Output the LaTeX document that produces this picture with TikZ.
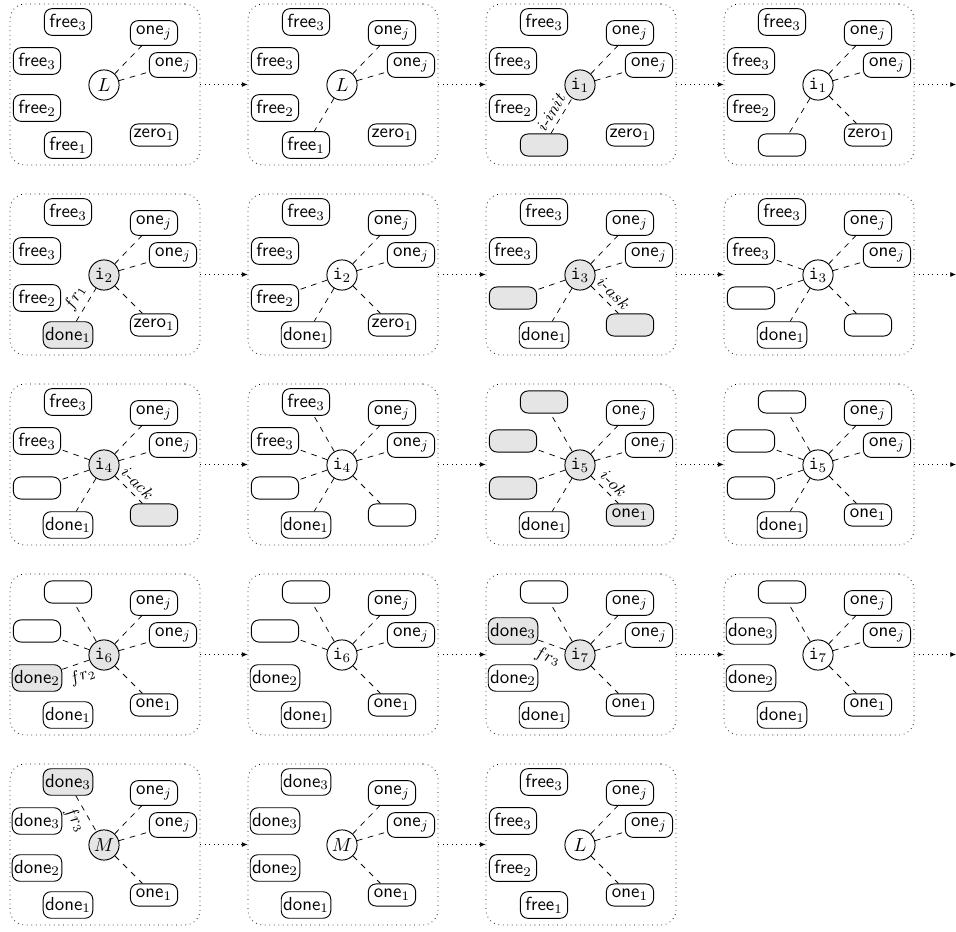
\documentclass[tikz,border=0pt]{standalone}
\usetikzlibrary{arrows.meta}
\newcommand\tfree[1]{free$_{#1}$}
\newcommand\tdone[1]{done$_{#1}$}
\newcommand\tone[1]{one$_{#1}$}
\newcommand\tzero[1]{zero$_{#1}$}
\newcommand\tii[1]{$\texttt{i}_{#1}$}
\begin{document}
\begin{tikzpicture}[x=0.53pt,y=-0.53pt,
 box/.style={draw, line width=0.5pt, rounded corners=4pt, minimum width=25pt, minimum height=11.7pt, inner xsep=1pt, inner ysep=2.8pt, font=\sffamily},
 hl/.style={fill=black!10},
 ctr/.style={draw, line width=0.5pt, circle, minimum size=16pt, inner sep=0.5pt},
 link/.style={dashed},
 frame/.style={draw, dotted, rounded corners=8pt, minimum width=100.7pt, minimum height=85.3pt, inner sep=0pt},
 flow/.style={dotted, -{Latex[length=3pt,width=2.6pt]}},
 lbl/.style={font=\small, sloped, inner sep=2.6pt}]
\useasboundingbox (0,0) rectangle (956,932);

% ---------- Panel 1
\begin{scope}[shift={(10,4)}]
\node[frame] (p1) at (95,80.5) {};
\node[ctr] (p1C) at (94,81) {$L$};
\node[box] (p1T) at (58,18) {\tfree3};
\node[box] (p1UL) at (27,57) {\tfree3};
\node[box] (p1LL) at (27,104) {\tfree2};
\node[box] (p1B) at (58,141) {\tfree1};
\node[box] (p1R1) at (144,29) {\tone j};
\node[box] (p1R2) at (163,61) {\tone j};
\node[box] (p1BR) at (144,131) {\tzero1};
\draw[link] (p1C) -- (p1R1);
\draw[link] (p1C) -- (p1R2);
\end{scope}
% ---------- Panel 2
\begin{scope}[shift={(248,4)}]
\node[frame] (p2) at (95,80.5) {};
\node[ctr] (p2C) at (94,81) {$L$};
\node[box] (p2T) at (58,18) {\tfree3};
\node[box] (p2UL) at (27,57) {\tfree3};
\node[box] (p2LL) at (27,104) {\tfree2};
\node[box] (p2B) at (58,141) {\tfree1};
\node[box] (p2R1) at (144,29) {\tone j};
\node[box] (p2R2) at (163,61) {\tone j};
\node[box] (p2BR) at (144,131) {\tzero1};
\draw[link] (p2C) -- (p2R1);
\draw[link] (p2C) -- (p2R2);
\draw[link] (p2C) -- (p2B);
\end{scope}
% ---------- Panel 3
\begin{scope}[shift={(486,4)}]
\node[frame] (p3) at (95,80.5) {};
\node[ctr,hl] (p3C) at (94,81) {\tii1};
\node[box] (p3T) at (58,18) {\tfree3};
\node[box] (p3UL) at (27,57) {\tfree3};
\node[box] (p3LL) at (27,104) {\tfree2};
\node[box,hl] (p3B) at (58,141) {};
\node[box] (p3R1) at (144,29) {\tone j};
\node[box] (p3R2) at (163,61) {\tone j};
\node[box] (p3BR) at (144,131) {\tzero1};
\draw[link] (p3C) -- (p3R1);
\draw[link] (p3C) -- (p3R2);
\draw[link] (p3B) -- node[lbl,above,pos=0.45] {$i$-$init$} (p3C);
\end{scope}
% ---------- Panel 4
\begin{scope}[shift={(724,4)}]
\node[frame] (p4) at (95,80.5) {};
\node[ctr] (p4C) at (94,81) {\tii1};
\node[box] (p4T) at (58,18) {\tfree3};
\node[box] (p4UL) at (27,57) {\tfree3};
\node[box] (p4LL) at (27,104) {\tfree2};
\node[box] (p4B) at (58,141) {};
\node[box] (p4R1) at (144,29) {\tone j};
\node[box] (p4R2) at (163,61) {\tone j};
\node[box] (p4BR) at (144,131) {\tzero1};
\draw[link] (p4C) -- (p4R1);
\draw[link] (p4C) -- (p4R2);
\draw[link] (p4C) -- (p4B);
\draw[link] (p4C) -- (p4BR);
\end{scope}
% ---------- Panel 5
\begin{scope}[shift={(10,194)}]
\node[frame] (p5) at (95,80.5) {};
\node[ctr,hl] (p5C) at (94,81) {\tii2};
\node[box] (p5T) at (58,18) {\tfree3};
\node[box] (p5UL) at (27,57) {\tfree3};
\node[box] (p5LL) at (27,104) {\tfree2};
\node[box,hl] (p5B) at (58,141) {\tdone1};
\node[box] (p5R1) at (144,29) {\tone j};
\node[box] (p5R2) at (163,61) {\tone j};
\node[box] (p5BR) at (144,131) {\tzero1};
\draw[link] (p5C) -- (p5R1);
\draw[link] (p5C) -- (p5R2);
\draw[link] (p5B) -- node[lbl,above] {$fr_1$} (p5C);
\draw[link] (p5C) -- (p5BR);
\end{scope}
% ---------- Panel 6
\begin{scope}[shift={(248,194)}]
\node[frame] (p6) at (95,80.5) {};
\node[ctr] (p6C) at (94,81) {\tii2};
\node[box] (p6T) at (58,18) {\tfree3};
\node[box] (p6UL) at (27,57) {\tfree3};
\node[box] (p6LL) at (27,104) {\tfree2};
\node[box] (p6B) at (58,141) {\tdone1};
\node[box] (p6R1) at (144,29) {\tone j};
\node[box] (p6R2) at (163,61) {\tone j};
\node[box] (p6BR) at (144,131) {\tzero1};
\draw[link] (p6C) -- (p6R1);
\draw[link] (p6C) -- (p6R2);
\draw[link] (p6C) -- (p6B);
\draw[link] (p6C) -- (p6BR);
\draw[link] (p6C) -- (p6LL);
\end{scope}
% ---------- Panel 7
\begin{scope}[shift={(486,194)}]
\node[frame] (p7) at (95,80.5) {};
\node[ctr,hl] (p7C) at (94,81) {\tii3};
\node[box] (p7T) at (58,18) {\tfree3};
\node[box] (p7UL) at (27,57) {\tfree3};
\node[box,hl] (p7LL) at (27,104) {};
\node[box] (p7B) at (58,141) {\tdone1};
\node[box] (p7R1) at (144,29) {\tone j};
\node[box] (p7R2) at (163,61) {\tone j};
\node[box,hl] (p7BR) at (144,131) {};
\draw[link] (p7C) -- (p7R1);
\draw[link] (p7C) -- (p7R2);
\draw[link] (p7C) -- (p7LL);
\draw[link] (p7C) -- (p7B);
\draw[link] (p7C) -- node[lbl,above,pos=0.55] {$i$-$ask$} (p7BR);
\end{scope}
% ---------- Panel 8
\begin{scope}[shift={(724,194)}]
\node[frame] (p8) at (95,80.5) {};
\node[ctr] (p8C) at (94,81) {\tii3};
\node[box] (p8T) at (58,18) {\tfree3};
\node[box] (p8UL) at (27,57) {\tfree3};
\node[box] (p8LL) at (27,104) {};
\node[box] (p8B) at (58,141) {\tdone1};
\node[box] (p8R1) at (144,29) {\tone j};
\node[box] (p8R2) at (163,61) {\tone j};
\node[box] (p8BR) at (144,131) {};
\draw[link] (p8C) -- (p8R1);
\draw[link] (p8C) -- (p8R2);
\draw[link] (p8C) -- (p8UL);
\draw[link] (p8C) -- (p8LL);
\draw[link] (p8C) -- (p8B);
\draw[link] (p8C) -- (p8BR);
\end{scope}
% ---------- Panel 9
\begin{scope}[shift={(10,384)}]
\node[frame] (p9) at (95,80.5) {};
\node[ctr,hl] (p9C) at (94,81) {\tii4};
\node[box] (p9T) at (58,18) {\tfree3};
\node[box] (p9UL) at (27,57) {\tfree3};
\node[box] (p9LL) at (27,104) {};
\node[box] (p9B) at (58,141) {\tdone1};
\node[box] (p9R1) at (144,29) {\tone j};
\node[box] (p9R2) at (163,61) {\tone j};
\node[box,hl] (p9BR) at (144,131) {};
\draw[link] (p9C) -- (p9R1);
\draw[link] (p9C) -- (p9R2);
\draw[link] (p9C) -- (p9UL);
\draw[link] (p9C) -- (p9LL);
\draw[link] (p9C) -- (p9B);
\draw[link] (p9C) -- node[lbl,above,pos=0.55] {$i$-$ack$} (p9BR);
\end{scope}
% ---------- Panel 10
\begin{scope}[shift={(248,384)}]
\node[frame] (p10) at (95,80.5) {};
\node[ctr] (p10C) at (94,81) {\tii4};
\node[box] (p10T) at (58,18) {\tfree3};
\node[box] (p10UL) at (27,57) {\tfree3};
\node[box] (p10LL) at (27,104) {};
\node[box] (p10B) at (58,141) {\tdone1};
\node[box] (p10R1) at (144,29) {\tone j};
\node[box] (p10R2) at (163,61) {\tone j};
\node[box] (p10BR) at (144,131) {};
\draw[link] (p10C) -- (p10R1);
\draw[link] (p10C) -- (p10R2);
\draw[link] (p10C) -- (p10T);
\draw[link] (p10C) -- (p10UL);
\draw[link] (p10C) -- (p10LL);
\draw[link] (p10C) -- (p10B);
\draw[link] (p10C) -- (p10BR);
\end{scope}
% ---------- Panel 11
\begin{scope}[shift={(486,384)}]
\node[frame] (p11) at (95,80.5) {};
\node[ctr,hl] (p11C) at (94,81) {\tii5};
\node[box,hl] (p11T) at (58,18) {};
\node[box,hl] (p11UL) at (27,57) {};
\node[box,hl] (p11LL) at (27,104) {};
\node[box] (p11B) at (58,141) {\tdone1};
\node[box] (p11R1) at (144,29) {\tone j};
\node[box] (p11R2) at (163,61) {\tone j};
\node[box,hl] (p11BR) at (144,131) {\tone1};
\draw[link] (p11C) -- (p11R1);
\draw[link] (p11C) -- (p11R2);
\draw[link] (p11C) -- (p11T);
\draw[link] (p11C) -- (p11UL);
\draw[link] (p11C) -- (p11LL);
\draw[link] (p11C) -- (p11B);
\draw[link] (p11C) -- node[lbl,above,pos=0.55] {$i$-$ok$} (p11BR);
\end{scope}
% ---------- Panel 12
\begin{scope}[shift={(724,384)}]
\node[frame] (p12) at (95,80.5) {};
\node[ctr] (p12C) at (94,81) {\tii5};
\node[box] (p12T) at (58,18) {};
\node[box] (p12UL) at (27,57) {};
\node[box] (p12LL) at (27,104) {};
\node[box] (p12B) at (58,141) {\tdone1};
\node[box] (p12R1) at (144,29) {\tone j};
\node[box] (p12R2) at (163,61) {\tone j};
\node[box] (p12BR) at (144,131) {\tone1};
\draw[link] (p12C) -- (p12R1);
\draw[link] (p12C) -- (p12R2);
\draw[link] (p12C) -- (p12T);
\draw[link] (p12C) -- (p12UL);
\draw[link] (p12C) -- (p12LL);
\draw[link] (p12C) -- (p12B);
\draw[link] (p12C) -- (p12BR);
\end{scope}
% ---------- Panel 13
\begin{scope}[shift={(10,574)}]
\node[frame] (p13) at (95,80.5) {};
\node[ctr,hl] (p13C) at (94,81) {\tii6};
\node[box] (p13T) at (58,18) {};
\node[box] (p13UL) at (27,57) {};
\node[box,hl] (p13LL) at (27,104) {\tdone2};
\node[box] (p13B) at (58,141) {\tdone1};
\node[box] (p13R1) at (144,29) {\tone j};
\node[box] (p13R2) at (163,61) {\tone j};
\node[box] (p13BR) at (144,131) {\tone1};
\draw[link] (p13C) -- (p13R1);
\draw[link] (p13C) -- (p13R2);
\draw[link] (p13C) -- (p13T);
\draw[link] (p13C) -- (p13UL);
\draw[link] (p13LL) -- node[lbl,below,pos=0.6] {$fr_2$} (p13C);
\draw[link] (p13C) -- (p13BR);
\end{scope}
% ---------- Panel 14
\begin{scope}[shift={(248,574)}]
\node[frame] (p14) at (95,80.5) {};
\node[ctr] (p14C) at (94,81) {\tii6};
\node[box] (p14T) at (58,18) {};
\node[box] (p14UL) at (27,57) {};
\node[box] (p14LL) at (27,104) {\tdone2};
\node[box] (p14B) at (58,141) {\tdone1};
\node[box] (p14R1) at (144,29) {\tone j};
\node[box] (p14R2) at (163,61) {\tone j};
\node[box] (p14BR) at (144,131) {\tone1};
\draw[link] (p14C) -- (p14R1);
\draw[link] (p14C) -- (p14R2);
\draw[link] (p14C) -- (p14T);
\draw[link] (p14C) -- (p14UL);
\draw[link] (p14C) -- (p14BR);
\end{scope}
% ---------- Panel 15
\begin{scope}[shift={(486,574)}]
\node[frame] (p15) at (95,80.5) {};
\node[ctr,hl] (p15C) at (94,81) {\tii7};
\node[box] (p15T) at (58,18) {};
\node[box,hl] (p15UL) at (27,57) {\tdone3};
\node[box] (p15LL) at (27,104) {\tdone2};
\node[box] (p15B) at (58,141) {\tdone1};
\node[box] (p15R1) at (144,29) {\tone j};
\node[box] (p15R2) at (163,61) {\tone j};
\node[box] (p15BR) at (144,131) {\tone1};
\draw[link] (p15C) -- (p15R1);
\draw[link] (p15C) -- (p15R2);
\draw[link] (p15C) -- (p15T);
\draw[link] (p15UL) -- node[lbl,below] {$fr_3$} (p15C);
\draw[link] (p15C) -- (p15BR);
\end{scope}
% ---------- Panel 16
\begin{scope}[shift={(724,574)}]
\node[frame] (p16) at (95,80.5) {};
\node[ctr] (p16C) at (94,81) {\tii7};
\node[box] (p16T) at (58,18) {};
\node[box] (p16UL) at (27,57) {\tdone3};
\node[box] (p16LL) at (27,104) {\tdone2};
\node[box] (p16B) at (58,141) {\tdone1};
\node[box] (p16R1) at (144,29) {\tone j};
\node[box] (p16R2) at (163,61) {\tone j};
\node[box] (p16BR) at (144,131) {\tone1};
\draw[link] (p16C) -- (p16R1);
\draw[link] (p16C) -- (p16R2);
\draw[link] (p16C) -- (p16T);
\draw[link] (p16C) -- (p16BR);
\end{scope}
% ---------- Panel 17
\begin{scope}[shift={(10,764)}]
\node[frame] (p17) at (95,80.5) {};
\node[ctr,hl] (p17C) at (94,81) {$M$};
\node[box,hl] (p17T) at (58,18) {\tdone3};
\node[box] (p17UL) at (27,57) {\tdone3};
\node[box] (p17LL) at (27,104) {\tdone2};
\node[box] (p17B) at (58,141) {\tdone1};
\node[box] (p17R1) at (144,29) {\tone j};
\node[box] (p17R2) at (163,61) {\tone j};
\node[box] (p17BR) at (144,131) {\tone1};
\draw[link] (p17C) -- (p17R1);
\draw[link] (p17C) -- (p17R2);
\draw[link] (p17T) -- node[lbl,below] {$fr_3$} (p17C);
\draw[link] (p17C) -- (p17BR);
\end{scope}
% ---------- Panel 18
\begin{scope}[shift={(248,764)}]
\node[frame] (p18) at (95,80.5) {};
\node[ctr] (p18C) at (94,81) {$M$};
\node[box] (p18T) at (58,18) {\tdone3};
\node[box] (p18UL) at (27,57) {\tdone3};
\node[box] (p18LL) at (27,104) {\tdone2};
\node[box] (p18B) at (58,141) {\tdone1};
\node[box] (p18R1) at (144,29) {\tone j};
\node[box] (p18R2) at (163,61) {\tone j};
\node[box] (p18BR) at (144,131) {\tone1};
\draw[link] (p18C) -- (p18R1);
\draw[link] (p18C) -- (p18R2);
\draw[link] (p18C) -- (p18BR);
\end{scope}
% ---------- Panel 19
\begin{scope}[shift={(486,764)}]
\node[frame] (p19) at (95,80.5) {};
\node[ctr] (p19C) at (94,81) {$L$};
\node[box] (p19T) at (58,18) {\tfree3};
\node[box] (p19UL) at (27,57) {\tfree3};
\node[box] (p19LL) at (27,104) {\tfree2};
\node[box] (p19B) at (58,141) {\tfree1};
\node[box] (p19R1) at (144,29) {\tone j};
\node[box] (p19R2) at (163,61) {\tone j};
\node[box] (p19BR) at (144,131) {\tone1};
\draw[link] (p19C) -- (p19R1);
\draw[link] (p19C) -- (p19R2);
\draw[link] (p19C) -- (p19BR);
\end{scope}

% ---------- flow arrows
\coordinate (e1) at (956,84.5);
\coordinate (e2) at (956,274.5);
\coordinate (e3) at (956,464.5);
\coordinate (e4) at (956,654.5);
\draw[flow] (p1.east) -- (p2.west);
\draw[flow] (p2.east) -- (p3.west);
\draw[flow] (p3.east) -- (p4.west);
\draw[flow] (p4.east) -- (e1);
\draw[flow] (p5.east) -- (p6.west);
\draw[flow] (p6.east) -- (p7.west);
\draw[flow] (p7.east) -- (p8.west);
\draw[flow] (p8.east) -- (e2);
\draw[flow] (p9.east) -- (p10.west);
\draw[flow] (p10.east) -- (p11.west);
\draw[flow] (p11.east) -- (p12.west);
\draw[flow] (p12.east) -- (e3);
\draw[flow] (p13.east) -- (p14.west);
\draw[flow] (p14.east) -- (p15.west);
\draw[flow] (p15.east) -- (p16.west);
\draw[flow] (p16.east) -- (e4);
\draw[flow] (p17.east) -- (p18.west);
\draw[flow] (p18.east) -- (p19.west);
\end{tikzpicture}
\end{document}
